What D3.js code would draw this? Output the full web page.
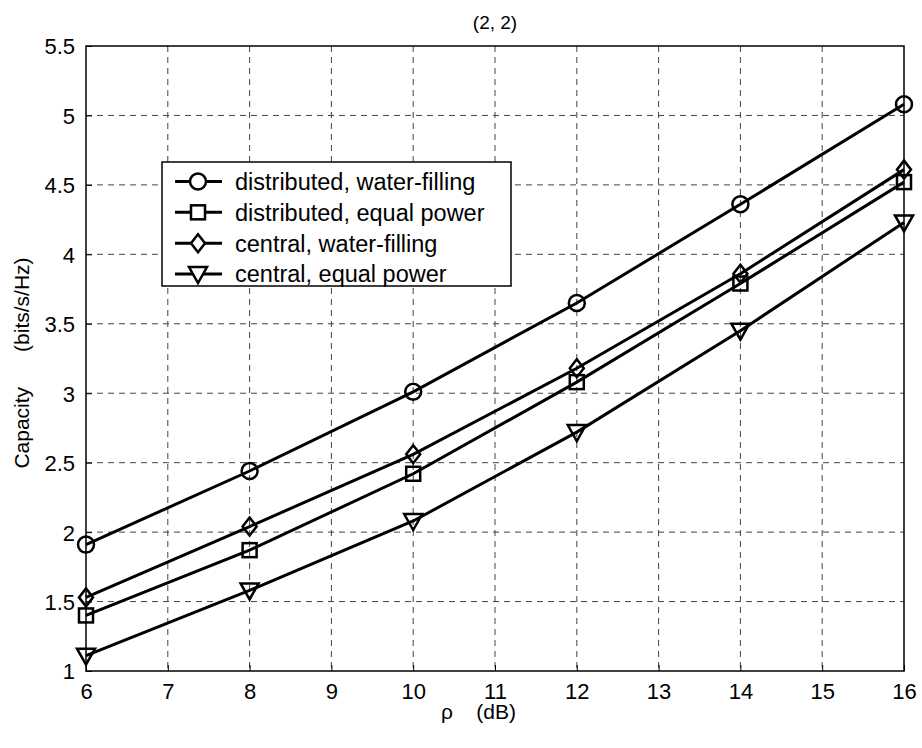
<!DOCTYPE html>
<html><head><meta charset="utf-8">
<script src="https://cdn.jsdelivr.net/npm/d3@7"></script>
<style>body{margin:0;background:#fff}text{font-family:"Liberation Sans",Arial,sans-serif;white-space:pre}</style>
</head><body><svg id="c" width="922" height="748"></svg>
<script>
const xValues = [6, 8, 10, 12, 14, 16];
const distWF = [1.91, 2.44, 3.01, 3.65, 4.36, 5.08];
const distEP = [1.40, 1.87, 2.42, 3.08, 3.79, 4.52];
const centWF = [1.53, 2.04, 2.56, 3.18, 3.86, 4.61];
const centEP = [1.11, 1.58, 2.08, 2.72, 3.45, 4.23];
const seriesNames = ["distributed, water-filling", "distributed, equal power", "central, water-filling", "central, equal power"];
const seriesMarkers = ["circle", "square", "diamond", "triangle"];
const xTicks = [6,7,8,9,10,11,12,13,14,15,16];
const yTicks = [1,1.5,2,2.5,3,3.5,4,4.5,5,5.5];
const titleText = "(2, 2)";
const xLabel = "ρ    (dB)";
const yLabel = "Capacity      (bits/s/Hz)";

const series = [distWF, distEP, centWF, centEP];
const svg = d3.select("#c");
const L=86, R=904, T=46, B=671;
const x = d3.scaleLinear().domain([6,16]).range([L,R]);
const y = d3.scaleLinear().domain([1,5.5]).range([B,T]);

// grid
const g = svg.append("g");
g.selectAll(".gx").data(xTicks.slice(1,-1)).enter().append("line")
  .attr("x1",d=>x(d)).attr("x2",d=>x(d)).attr("y1",T).attr("y2",B)
  .attr("stroke","#444").attr("stroke-width",1).attr("stroke-dasharray","6,5");
g.selectAll(".gy").data(yTicks.slice(1,-1)).enter().append("line")
  .attr("y1",d=>y(d)).attr("y2",d=>y(d)).attr("x1",L).attr("x2",R)
  .attr("stroke","#444").attr("stroke-width",1).attr("stroke-dasharray","6,5");

// axes
const xa = svg.append("g").attr("transform",`translate(0,${B})`)
  .call(d3.axisBottom(x).tickValues(xTicks).tickSize(-6).tickPadding(12).tickFormat(d3.format("d")));
const ya = svg.append("g").attr("transform",`translate(${L},0)`)
  .call(d3.axisLeft(y).tickValues(yTicks).tickSize(-6).tickPadding(11).tickFormat(d=>String(d)));
[xa,ya].forEach(a=>{a.select(".domain").remove();a.selectAll("line").attr("stroke","#000");
  a.selectAll("text").attr("font-size","22px").attr("fill","#000").attr("font-family","Liberation Sans, Arial, sans-serif");});
xa.selectAll("text").attr("dy","0.71em");
ya.selectAll("text").attr("dy","0.36em");
svg.append("rect").attr("x",L).attr("y",T).attr("width",R-L).attr("height",B-T)
  .attr("fill","none").attr("stroke","#000").attr("stroke-width",1.5);

// markers
function marker(sel, type, cx, cy){
  if(type==="circle") sel.append("circle").attr("cx",cx).attr("cy",cy).attr("r",8);
  else if(type==="square") sel.append("rect").attr("x",cx-7).attr("y",cy-7).attr("width",14).attr("height",14);
  else if(type==="diamond") sel.append("path").attr("d",`M${cx},${cy-9}L${cx+7},${cy}L${cx},${cy+9}L${cx-7},${cy}Z`);
  else sel.append("path").attr("d",`M${cx-9},${cy-7}L${cx+9},${cy-7}L${cx},${cy+9}Z`);
}
const line = d3.line().x((d,i)=>x(xValues[i])).y(d=>y(d));
series.forEach((s,k)=>{
  svg.append("path").datum(s).attr("d",line).attr("fill","none").attr("stroke","#000").attr("stroke-width",3);
  const mg = svg.append("g").attr("fill","none").attr("stroke","#000").attr("stroke-width",2.5);
  s.forEach((v,i)=>marker(mg, seriesMarkers[k], x(xValues[i]), y(v)));
});

// legend
const lg = svg.append("g");
lg.append("rect").attr("x",162).attr("y",162).attr("width",349).attr("height",124)
  .attr("fill","#fff").attr("stroke","#000").attr("stroke-width",1.5);
const rowY = d3.scaleLinear().domain([0,3]).range([181.5,274]);
seriesNames.forEach((n,k)=>{
  const yy = rowY(k);
  lg.append("line").attr("x1",175).attr("x2",222).attr("y1",yy).attr("y2",yy).attr("stroke","#000").attr("stroke-width",3);
  const mg = lg.append("g").attr("fill","#fff").attr("stroke","#000").attr("stroke-width",2.5);
  marker(mg, seriesMarkers[k], 198, yy);
  lg.append("text").attr("x",235).attr("y",yy).attr("dy","0.36em").attr("font-size","23.5px").text(n);
});

// titles
svg.append("text").attr("x",(L+R)/2).attr("y",29).attr("text-anchor","middle").attr("font-size","19px").text(titleText);
svg.append("text").attr("x",441).attr("y",719).attr("text-anchor","start").attr("font-size","21px").text(xLabel);
svg.append("text").attr("transform",`translate(29,363) rotate(-90)`).attr("text-anchor","middle").attr("font-size","21px").text(yLabel);
</script></body></html>
